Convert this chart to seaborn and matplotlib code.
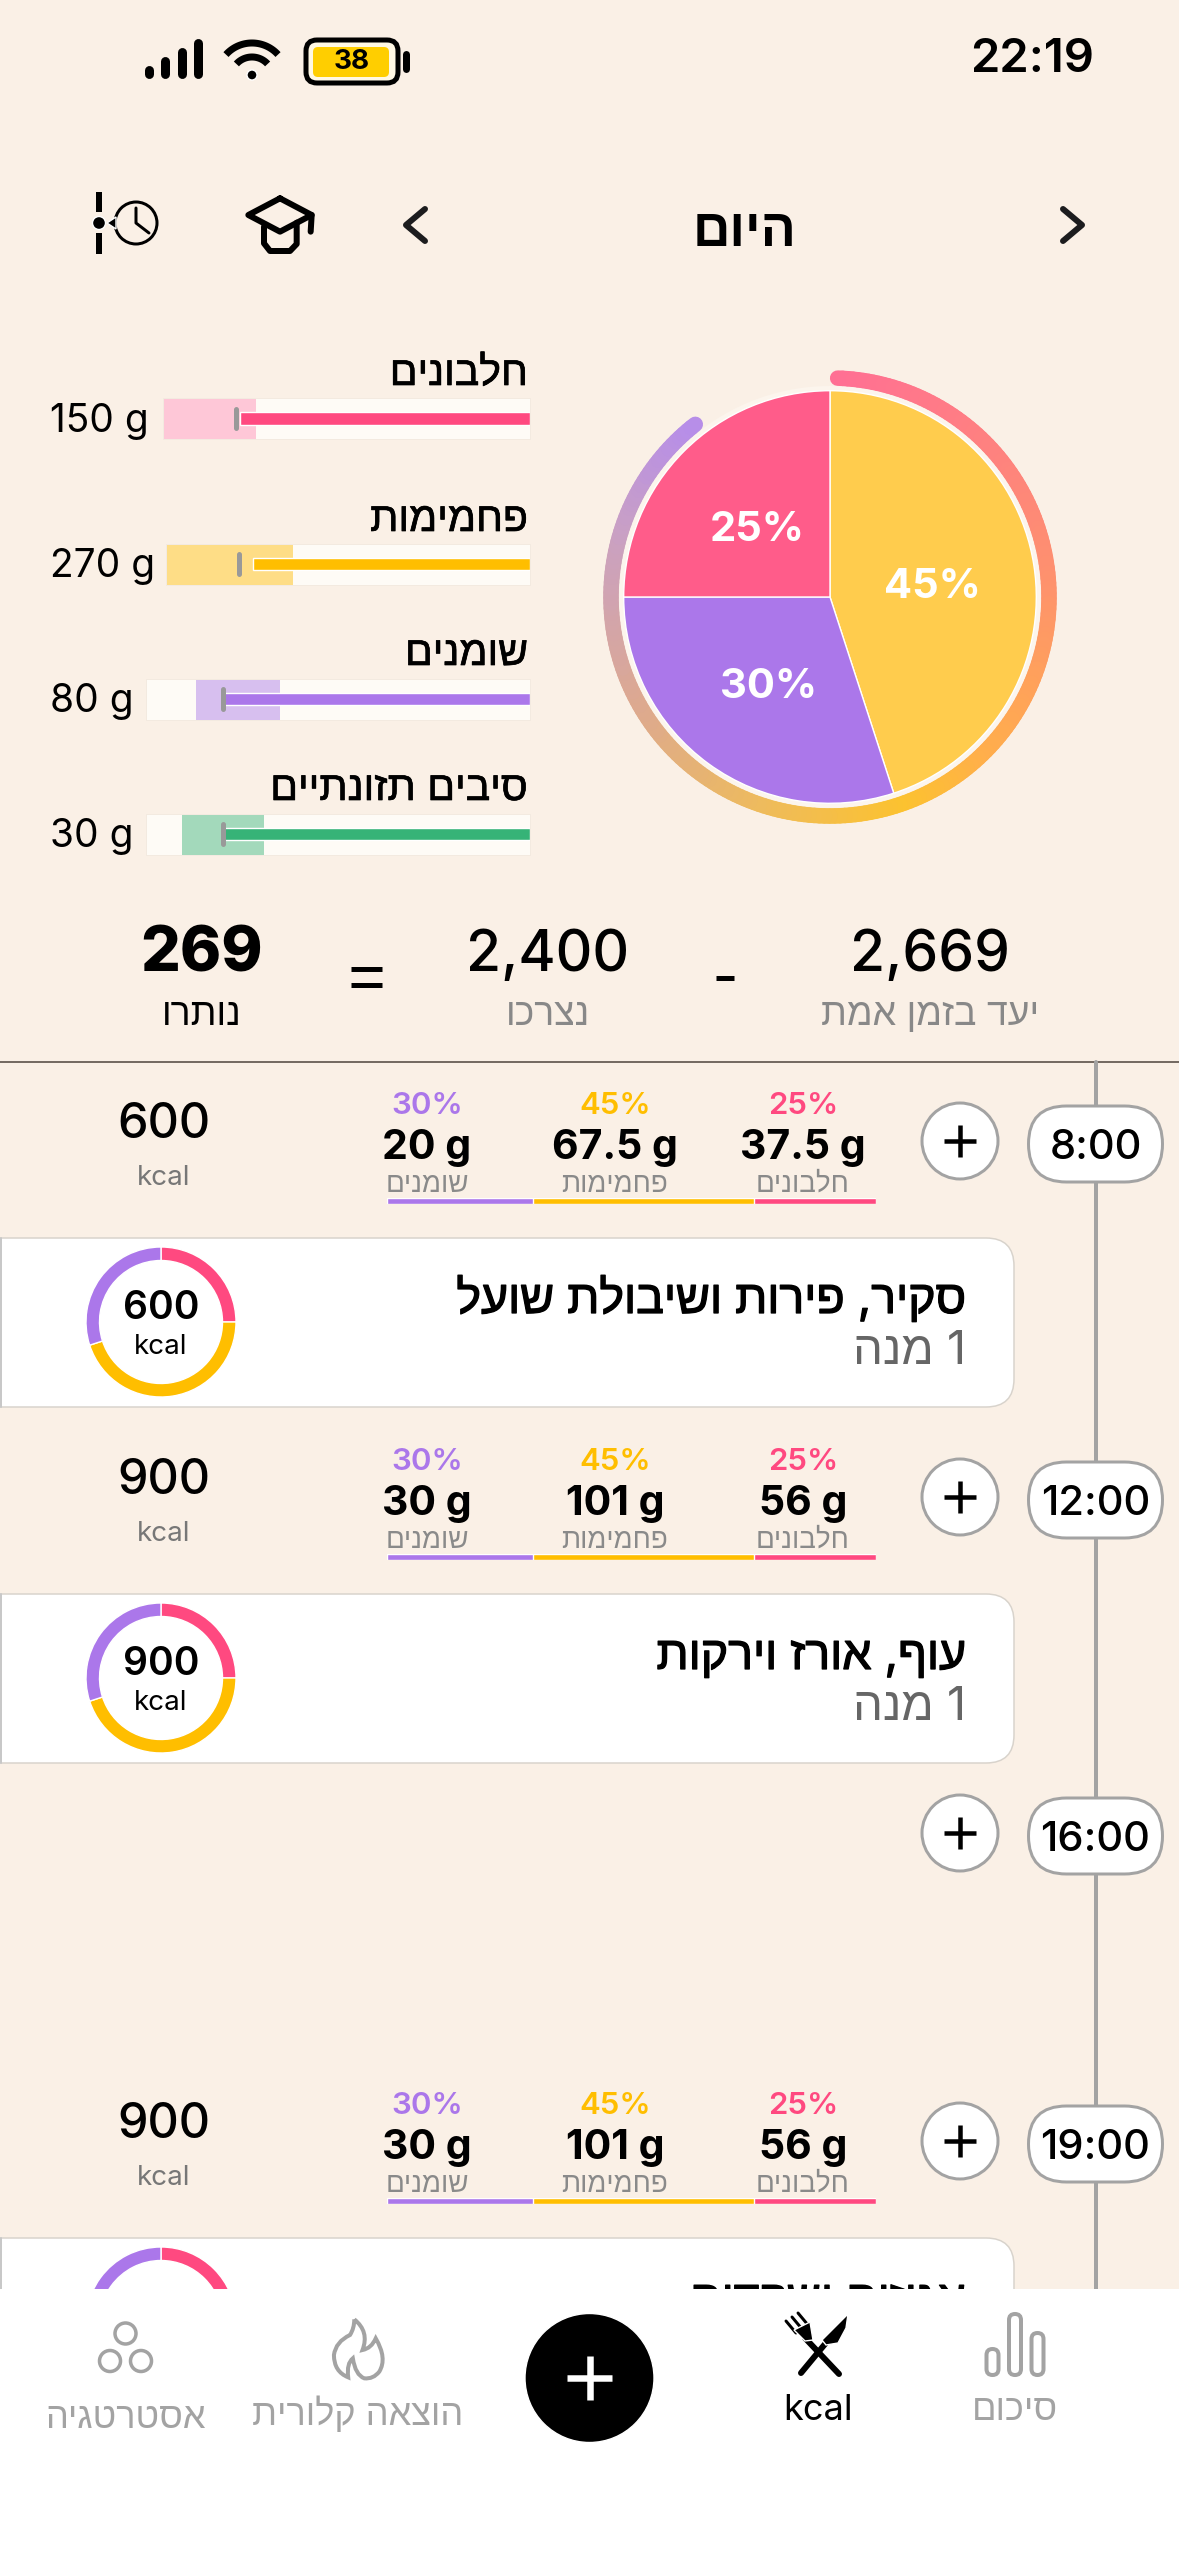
import numpy as np
import pandas as pd
import seaborn as sns
import matplotlib.pyplot as plt
import matplotlib.patheffects as pe
from matplotlib.collections import LineCollection
from matplotlib.colors import LinearSegmentedColormap
from matplotlib.patches import Circle, FancyBboxPatch, PathPatch, Polygon, Rectangle
from matplotlib.path import Path

W, H = 1179, 2556
BG = '#FAF0E6'
PINK = '#FF4980'
YELLOW = '#FFBE00'
PURPLE = '#AB77EA'
GREEN = '#36B377'
GRAY = '#A3A3A3'

# daily macro targets
MACRO_NAMES = ['חלבונים', 'פחמימות', 'שומנים', 'סיבים תזונתיים']
MACRO_TARGET = [150, 270, 80, 30]
MACRO_EATEN = [148, 257, 80, 30]
MACRO_LOW = [140, 220, 65, 26]
MACRO_HIGH = [187.5, 337.5, 87, 34]
MACRO_MAX = [187.5, 337.5, 100, 37.5]
MACRO_COLORS = [PINK, YELLOW, PURPLE, GREEN]
MACRO_SHADE = ['#FEC7D7', '#FEDD86', '#D7BFEF', '#A3D9BB']

# pie
PIE_SHARE = [45, 30, 25]
PIE_COLORS = ['#FFCC4D', '#AB77EA', '#FF5C8A']
RING_SHARE = 0.889

# summary line
SUMMARY_VALUES = ['2,669', '2,400', '269']
SUMMARY_LABELS = ['יעד בזמן אמת', 'נצרכו', 'נותרו']

# meals, macro order is left to right on screen
MEAL_TIMES = ['8:00', '12:00', '19:00']
MEAL_KCAL = [600, 900, 900]
MEAL_GRAMS = [['20 g', '67.5 g', '37.5 g'], ['30 g', '101 g', '56 g'], ['30 g', '101 g', '56 g']]
MEAL_PCT = [30, 45, 25]
MEAL_MACROS = ['שומנים', 'פחמימות', 'חלבונים']
MEAL_COLORS = [PURPLE, YELLOW, PINK]
MEAL_TITLES = ['סקיר, פירות ושיבולת שועל', 'עוף, אורז וירקות', 'אגוזים ושקדים']
MEAL_PORTION = '1 מנה'
EMPTY_TIME = '16:00'
NAV_LABELS = ['אסטרטגיה', 'הוצאה קלורית', 'kcal', 'סיכום']

sns.set_theme(style='white')
plt.rcParams['font.family'] = ['Inter', 'Liberation Sans']


def rtl(s):
    # matplotlib has no bidi so hebrew goes in visual order
    return s[::-1]


def lw(px):
    return px * 0.72


fig = plt.figure(figsize=(W / 100, H / 100), dpi=100, facecolor=BG)


def px_axes(x0, y0, x1, y1, z=1):
    return fig.add_axes([x0 / W, 1 - y1 / H, (x1 - x0) / W, (y1 - y0) / H], zorder=z)


def screen_axes(z):
    ax = fig.add_axes([0, 0, 1, 1], zorder=z)
    ax.set_xlim(0, W)
    ax.set_ylim(H, 0)
    ax.axis('off')
    return ax


ui = screen_axes(0)
top = screen_axes(5)


def text(ax, x, y, s, size, color='black', ha='center', weight='normal', va='baseline', fat=0):
    t = ax.text(x, y, s, fontsize=size, color=color, ha=ha, va=va, fontweight=weight)
    if fat:
        t.set_path_effects([pe.withStroke(linewidth=fat, foreground=color)])
    return t


def line(xs, ys, width, color='black', cap='round', ax=top, z=3):
    ax.plot(xs, ys, color=color, lw=lw(width), solid_capstyle=cap, solid_joinstyle='round', zorder=z)


def arc(cx, cy, r, a0, a1, width, color='black'):
    a = np.radians(np.linspace(a0, a1, 40))
    line(cx + r * np.cos(a), cy - r * np.sin(a), width, color, cap='butt')


def plus_button(x, y, r):
    top.add_patch(Circle((x, y), r, fc='white', ec=GRAY, lw=lw(3), zorder=2))
    line([x - 16, x + 16], [y, y], 4.5, cap='butt')
    line([x, x], [y - 16, y + 16], 4.5, cap='butt')


def time_pill(x, y, s):
    top.add_patch(FancyBboxPatch((x - 67, y - 38), 134, 76, boxstyle='round,pad=0,rounding_size=38',
                                 fc='white', ec=GRAY, lw=lw(3), zorder=2))
    text(top, x, y + 15, s, 30, weight='medium').set_zorder(4)


def donut(cx, cy, kcal):
    ax = px_axes(cx - 75, cy - 75, cx + 75, cy + 75, z=1)
    ax.pie(MEAL_PCT[::-1], colors=MEAL_COLORS[::-1], startangle=90, counterclock=False, radius=1,
           wedgeprops={'width': 0.18})
    ax.set_xlim(-1, 1)
    ax.set_ylim(-1, 1)
    text(ui, cx, cy - 3, str(kcal), 28, weight='semibold').set_zorder(2)
    text(ui, cx, cy + 32, 'kcal', 20).set_zorder(2)


def stacked_bar(y):
    ax = px_axes(386.5, y, 876, y + 6)
    df = pd.DataFrame({'macro': MEAL_MACROS, 'end': np.cumsum(MEAL_PCT), 'row': 'meal'})
    for _, r in df[::-1].iterrows():
        sns.barplot(x=[r['end']], y=[r['row']], color=MEAL_COLORS[MEAL_MACROS.index(r['macro'])],
                    saturation=1, width=1, orient='h', ax=ax)
    ax.set_xlim(0, 100)
    ax.axis('off')


def meal(i, y):
    # y is the middle of the time pill
    time_pill(1095.5, y, MEAL_TIMES[i])
    plus_button(960, y - 3, 38)
    text(top, 164, y - 6, str(MEAL_KCAL[i]), 35, weight='medium')
    text(top, 164, y + 41, 'kcal', 20, color='#777777')
    for x, pct, grams, name, color in zip([427, 615, 803], MEAL_PCT, MEAL_GRAMS[i], MEAL_MACROS, MEAL_COLORS):
        text(top, x, y - 30, f'{pct}%', 22.5, color=color, weight='semibold')
        text(top, x, y + 15, grams, 29.5, weight='bold')
        text(top, x, y + 48, rtl(name), 20, color='#8A8A8A')
    stacked_bar(y + 54)
    # card runs off the left of the screen, border stays at the edge
    ui.add_patch(FancyBboxPatch((-40, y + 94), 1054, 169, boxstyle='round,pad=0,rounding_size=28',
                                fc='white', ec='#D8D3CC', lw=lw(1.5), zorder=1))
    ui.plot([1, 1], [y + 94, y + 263], color='#C8C8C8', lw=lw(2), zorder=1.5)
    donut(161, y + 178, MEAL_KCAL[i])
    text(ui, 966, y + 169, rtl(MEAL_TITLES[i]), 33.5, ha='right', fat=0.9).set_zorder(2)
    text(ui, 966, y + 220, rtl(MEAL_PORTION), 34, color='#666666', ha='right').set_zorder(2)


# status bar
for x, t in zip([149, 165, 182, 198], [66, 57, 48, 39]):
    line([x, x], [t + 4, 74], 9)
arc(252, 78, 35, 42, 138, 7)
arc(252, 78, 21, 42, 138, 7)
top.add_patch(Circle((252, 75), 5, fc='black', zorder=3))
top.add_patch(FancyBboxPatch((306, 40), 92, 43, boxstyle='round,pad=0,rounding_size=11',
                             fc='#FFF8E4', ec='black', lw=lw(5), zorder=2))
top.add_patch(FancyBboxPatch((313, 47), 76, 30, boxstyle='round,pad=0,rounding_size=5',
                             fc='#FFCE00', ec='none', zorder=3))
line([406, 406], [54, 69], 7)
text(top, 352, 69, '38', 20, weight='bold').set_zorder(4)
text(top, 1094, 72, '22:19', 34, ha='right', weight='semibold')

# header icons
line([99, 99], [192, 212], 6, cap='butt')
line([99, 99], [233, 254], 6, cap='butt')
top.add_patch(Circle((99, 223), 6.5, fc='black', zorder=3))
top.add_patch(Circle((136, 223), 21, fc='none', ec='black', lw=lw(3), zorder=3))
top.add_patch(Polygon([(107, 223), (116, 217), (116, 229)], fc='black', zorder=3))
line([136, 136, 149], [208, 223, 233], 3)


def cap_icon(points):
    xs = [60 + p[0] / 3 for p in points]
    ys = [170 + p[1] / 3 for p in points]
    line(xs, ys, 6)


cap_icon([(660, 85), (755, 135), (660, 185), (565, 135), (660, 85)])
cap_icon([(755, 135), (752, 185)])
cap_icon([(612, 170), (612, 220), (630, 243), (690, 243), (710, 222), (710, 158)])
line([425, 406, 425], [209, 225, 241], 6, color='#1C1C1E')
line([1063, 1082, 1063], [209, 225, 241], 6, color='#1C1C1E')
text(top, 745, 246, rtl('היום'), 37.5, weight='bold')

# macro bars, the reference scales each one to 125% of its target
TRACK_LEFT = [163, 166, 146, 146]
TRACK_TOP = [398, 543.5, 678.5, 813.5]
LABEL_BASE = [385, 531, 665, 800]
VALUE_BASE = [432, 577, 712, 847]
for i, name in enumerate(MACRO_NAMES):
    ax = px_axes(TRACK_LEFT[i], TRACK_TOP[i], 529.5, TRACK_TOP[i] + 41)
    ax.set_facecolor('#FEFBF6')
    ax.axvspan(MACRO_LOW[i], MACRO_HIGH[i], color=MACRO_SHADE[i], lw=0, zorder=0)
    sns.barplot(x=[MACRO_EATEN[i]], y=[name], color=MACRO_COLORS[i], saturation=1, width=0.31, orient='h', ax=ax)
    ax.plot([MACRO_TARGET[i]] * 2, [-0.24, 0.24], color='#999999', lw=lw(5), solid_capstyle='round', zorder=5)
    ax.set_xlim(MACRO_MAX[i], 0)
    ax.set_ylim(0.5, -0.5)
    ax.set(xlabel='', ylabel='', xticks=[], yticks=[])
    for s in ax.spines.values():
        s.set_color('#F3EAE0')
        s.set_linewidth(lw(1))
    text(top, 528, LABEL_BASE[i], rtl(name), 29.5, ha='right', fat=0.5)
    text(top, 50, VALUE_BASE[i], f'{MACRO_TARGET[i]} g', 28, ha='left')

# pie with the progress ring round it
R = 206.3
pie_ax = px_axes(830 - 240, 597 - 240, 830 + 240, 597 + 240)
pie_ax.pie(PIE_SHARE, colors=PIE_COLORS, startangle=90, counterclock=False, radius=1)
pie_ax.set_xlim(-240 / R, 240 / R)
pie_ax.set_ylim(-240 / R, 240 / R)
pie_ax.add_patch(Circle((0, 0), 211 / R, fc='#FCF5ED', ec='none', zorder=0))
theta = np.radians(88 - 360 * RING_SHARE * np.linspace(0, 1, 240))
ring_x, ring_y = 219 / R * np.cos(theta), 219 / R * np.sin(theta)
ring_cmap = LinearSegmentedColormap.from_list('ring', [
    (0, '#FF6F94'), (0.25, '#FE8F70'), (0.42, '#FFAE4C'), (0.5, '#FCC22F'),
    (0.62, '#EEBB5D'), (0.75, '#DDA98F'), (0.9, '#C9A0C4'), (1, '#B78EE8')])
pts = np.column_stack([ring_x, ring_y]).reshape(-1, 1, 2)
segs = np.concatenate([pts[:-1], pts[1:]], axis=1)
ring = LineCollection(segs, colors=ring_cmap(np.linspace(0, 1, len(segs))), linewidths=lw(15.5), capstyle='round')
pie_ax.add_collection(ring)
for x, y, s in zip([932, 769, 757], [598, 698, 541], PIE_SHARE):
    text(top, x, y, f'{s}%', 30, color='white', weight='bold')

# summary
for x, v, s, c, wt, size in zip([930, 548, 202], SUMMARY_VALUES, SUMMARY_LABELS, ['#888888', '#888888', 'black'],
                                ['medium', 'medium', 800], [41, 41, 45]):
    text(top, x, 971, v, size, weight=wt)
    text(top, x, 1025, rtl(s), 27, color=c)
line([716, 734], [978, 978], 5, cap='butt')
line([351, 382], [968.5, 968.5], 5, cap='butt')
line([351, 382], [984.5, 984.5], 5, cap='butt')

# timeline
ui.plot([0, W], [1062, 1062], color='#4A4038', lw=lw(1.5), zorder=1)
ui.plot([1096, 1096], [1062, 2292], color=GRAY, lw=lw(4), zorder=1)
meal(0, 1144)
meal(1, 1500)
meal(2, 2144)
time_pill(1095.5, 1836, EMPTY_TIME)
plus_button(960, 1833, 38)

# bottom nav covers whatever runs under it
top.add_patch(Rectangle((0, 2289), W, H - 2289, fc='white', ec='none', zorder=6))
for x, y in [(125.5, 2333.5), (110, 2361), (141, 2361)]:
    top.add_patch(Circle((x, y), 10.5, fc='none', ec=GRAY, lw=lw(3.5), zorder=7))
flame = [(152, 58), (195, 95), (175, 150), (200, 145), (212, 115), (245, 175), (222, 215), (205, 238), (180, 235),
         (155, 225), (148, 175), (130, 190), (135, 232), (95, 215), (95, 165), (100, 125), (140, 105), (152, 85), (152, 58)]
flame_xy = [(300 + p[0] / 2.8, 2300 + p[1] / 3) for p in flame]
top.add_patch(PathPatch(Path(flame_xy, [Path.MOVETO] + [Path.CURVE3] * (len(flame_xy) - 1)),
                        fc='none', ec=GRAY, lw=lw(4), zorder=7))
top.add_patch(Circle((589.5, 2378), 64.5, fc='black', zorder=7))
for xs, ys in [([567, 612], [2378, 2378]), ([589.5, 589.5], [2356, 2400])]:
    line(xs, ys, 6.5, color='white', cap='butt', z=8)
# fork and knife
line([805, 839], [2338, 2374], 6, z=8)
for tip, base in [((786, 2321), (796, 2333)), ((792, 2317), (802, 2329)), ((798, 2313), (808, 2325))]:
    line([tip[0], base[0]], [tip[1], base[1]], 3, z=8)
top.add_patch(Polygon([(794, 2330), (810, 2322), (813, 2340), (805, 2341)], fc='black', zorder=8))
line([801, 830], [2373, 2338], 6, z=8)
top.add_patch(Polygon([(848, 2314), (846, 2328), (838, 2343), (826, 2345), (822, 2340)], fc='black', zorder=8))
for x, t in zip([992.5, 1015, 1037.5], [2347, 2312, 2331]):
    top.add_patch(FancyBboxPatch((x - 6, t + 2), 12, 2375 - t - 2, boxstyle='round,pad=0,rounding_size=6',
                                 fc='none', ec=GRAY, lw=lw(4), zorder=7))
for x, y, s, c in zip([125.5, 358, 818, 1015], [2428, 2425, 2420, 2420], NAV_LABELS, [GRAY, GRAY, 'black', GRAY]):
    label = s if s == 'kcal' else rtl(s)
    text(top, x, y, label, 26, color=c).set_zorder(8)

fig.savefig('out.png', dpi=100, facecolor=BG)
